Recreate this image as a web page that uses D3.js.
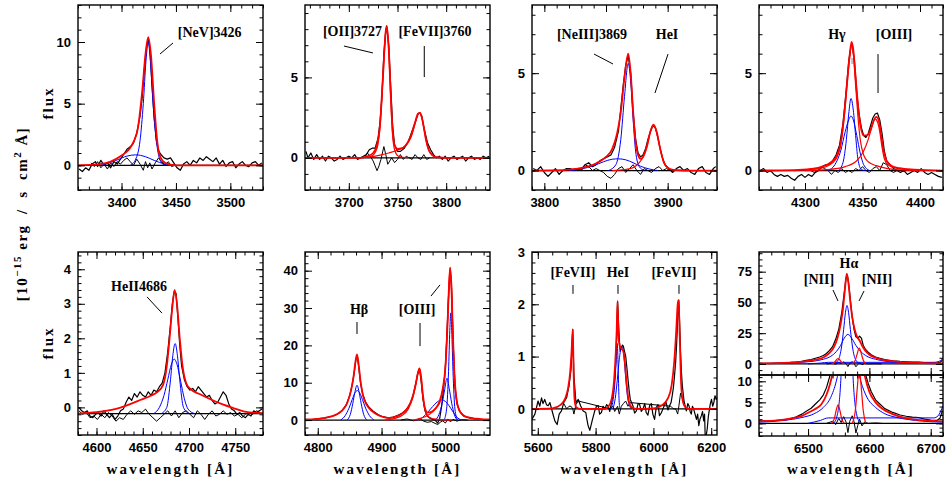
<!DOCTYPE html>
<html>
<head>
<meta charset="utf-8">
<script src="https://cdn.jsdelivr.net/npm/d3@7"></script>
<style>
  body { margin: 0; background: #fff; }
  .tick text { font-family: "Liberation Sans", Arial, sans-serif; font-weight: bold; font-size: 13px; fill: #000; }
  .lab { font-family: "Liberation Serif", serif; font-weight: bold; fill: #000; }
</style>
</head>
<body>
<svg id="chart" width="951" height="484"></svg>
<script>
// ---------- [NeV]3426 ----------
var neVObs = [[3361,-0.3],[3364,-0.5],[3367,-0.2],[3370,-0.4],[3373,0.1],[3376,0.3],[3378,-0.1],[3381,0.4],[3384,0.0],[3387,0.2],[3390,-0.2],[3393,0.3],[3396,0.1],[3399,0.5],[3402,0.9],[3405,1.3],[3408,1.5],[3411,1.8],[3414,2.6],[3417,4.0],[3419,5.5],[3421,7.8],[3423,9.6],[3424.5,10.2],[3426,9.5],[3428,6.5],[3430,3.8],[3432,2.0],[3434,1.2],[3436,0.9],[3439,0.6],[3442,0.5],[3445,0.6],[3448,0.2],[3451,-0.2],[3454,-0.4],[3457,0.1],[3460,0.3],[3463,0.0],[3466,0.4],[3469,0.2],[3472,0.6],[3475,0.4],[3478,0.7],[3481,0.5],[3484,0.3],[3487,0.6],[3490,0.1],[3493,0.4],[3496,-0.1],[3499,0.2],[3502,0.3],[3505,-0.2],[3508,0.1],[3511,0.3],[3514,0.0],[3517,-0.1],[3520,0.2],[3523,0.3],[3526,0.0],[3529,0.2]];
var neVResid = [[3372,0.2],[3375,-0.1],[3378,0.3],[3381,-0.2],[3384,0.1],[3387,-0.3],[3390,0.2],[3393,-0.1],[3396,0.3],[3399,0.1],[3402,0.4],[3405,0.6],[3408,0.3],[3411,0.0],[3414,0.5],[3417,0.1],[3420,-0.4],[3422,0.3],[3424,-0.2],[3426,0.2],[3428,-0.3],[3431,0.2],[3434,0.6],[3437,0.3],[3440,0.0],[3443,0.3],[3446,-0.1],[3449,0.0]];
var neVFit = [[3360,0],[3380,0.1],[3390,0.3],[3400,0.8],[3407,1.3],[3411,1.9],[3415,3.0],[3419,6.0],[3422,9.0],[3424.5,10.4],[3427,9.0],[3430,5.0],[3433,1.8],[3436,0.6],[3440,0.2],[3450,0],[3530,0]];
var neVNarrow = [[3408,0],[3413,0.5],[3417,2.0],[3420,5.0],[3422.5,8.5],[3424.5,10.0],[3426.5,8.5],[3429,5.0],[3432,2.0],[3436,0.3],[3440,0]];
var neVBroad = [[3380,0],[3385,0.1],[3395,0.4],[3405,0.75],[3413,0.85],[3422,0.7],[3430,0.4],[3440,0.1],[3450,0]];

// ---------- [OII]3727 / [FeVII]3760 ----------
var oIIObs = [[3656,0.4],[3658,0.0],[3661,0.3],[3664,-0.1],[3667,0.2],[3670,-0.1],[3673,0.1],[3676,-0.2],[3679,0.1],[3682,0.0],[3685,-0.2],[3688,-0.1],[3691,0.1],[3694,-0.1],[3697,0.0],[3700,0.1],[3703,0.0],[3706,0.2],[3709,-0.1],[3712,0.0],[3715,0.1],[3718,0.2],[3721,0.5],[3724,0.6],[3727,0.6],[3730,1.2],[3732,2.2],[3734,3.8],[3736,6.5],[3738,7.9],[3739,8.1],[3741,7.0],[3743,4.5],[3745,2.0],[3747,0.8],[3750,0.4],[3753,0.4],[3757,0.6],[3761,1.0],[3764,1.5],[3767,2.0],[3769,2.35],[3771,2.7],[3773,2.8],[3775,2.6],[3777,1.9],[3779,1.4],[3781,0.9],[3784,0.5],[3787,0.2],[3790,0.0],[3793,0.1],[3796,-0.1],[3799,0.1],[3802,-0.2],[3805,0.0],[3808,0.1],[3811,-0.1],[3814,0.0],[3817,0.1],[3820,-0.2],[3823,0.0],[3826,0.1],[3829,-0.1],[3832,0.0],[3835,-0.1],[3838,0.1],[3841,0.0],[3844,0.1]];
var oIIResid = [[3716,0.0],[3719,0.3],[3722,0.1],[3725,-0.2],[3727,-0.5],[3729,-0.8],[3731,-0.5],[3733,-0.1],[3736,0.7],[3738,0.2],[3740,-0.4],[3742,-0.2],[3744,0.0],[3747,-0.3],[3750,-0.1],[3753,0.2],[3756,-0.1],[3759,0.1],[3762,0.0],[3765,-0.1],[3768,0.2],[3771,0.0],[3774,-0.1],[3777,0.2],[3780,-0.1],[3783,0.0]];
var oIIFit = [[3655,0],[3711,0],[3719,0.1],[3725,0.3],[3729,0.8],[3732,2.0],[3735,5.0],[3738,7.9],[3739,8.2],[3741,6.8],[3743,4.0],[3745,1.7],[3747,0.8],[3750,0.55],[3755,0.6],[3760,0.9],[3764,1.4],[3768,2.2],[3771,2.75],[3773,2.8],[3775,2.5],[3777,1.9],[3779,1.2],[3782,0.5],[3786,0.15],[3791,0.03],[3801,0],[3845,0]];
var oIIComp = [[3711,0],[3723,0.1],[3729,0.6],[3732,1.9],[3735,4.9],[3738,7.9],[3739,8.2],[3741,6.7],[3743,3.8],[3745,1.4],[3747,0.5],[3751,0.1],[3761,0]];
var feVIIaComp = [[3711,0],[3721,0.05],[3731,0.15],[3741,0.3],[3751,0.5],[3759,0.8],[3764,1.3],[3768,2.1],[3771,2.7],[3773,2.8],[3775,2.5],[3777,1.9],[3779,1.2],[3782,0.5],[3786,0.15],[3791,0.03],[3801,0]];

// ---------- [NeIII]3869 / HeI ----------
var neIIIObs = [[3791,0.1],[3794,0.0],[3797,0.2],[3800,-0.1],[3803,-0.3],[3806,-0.1],[3809,0.1],[3812,-0.2],[3815,0.0],[3818,0.1],[3821,0.1],[3824,0.0],[3827,0.1],[3830,0.0],[3833,0.3],[3836,0.4],[3839,0.2],[3842,0.3],[3845,0.5],[3848,0.6],[3851,0.7],[3854,0.8],[3857,1.2],[3860,2.0],[3862,3.2],[3864,4.4],[3866,5.4],[3868,5.9],[3870,5.0],[3872,3.0],[3874,1.6],[3876,0.9],[3878,0.7],[3880,0.8],[3882,1.1],[3884,1.6],[3886,2.0],[3888,2.3],[3890,2.2],[3892,1.7],[3894,1.1],[3896,0.6],[3898,0.3],[3901,0.1],[3904,-0.1],[3907,0.1],[3910,0.2],[3913,0.0],[3916,0.1],[3919,-0.1],[3922,-0.2],[3925,0.1],[3928,0.2],[3931,-0.1],[3934,-0.2],[3937,0.1],[3939,0.2]];
var neIIIResid = [[3825,0.0],[3830,0.1],[3833,0.3],[3836,0.2],[3839,0.0],[3842,0.1],[3845,0.0],[3848,-0.1],[3851,-0.3],[3854,-0.4],[3857,-0.2],[3860,0.1],[3863,0.2],[3866,-0.1],[3869,0.1],[3872,0.3],[3875,0.0],[3878,-0.2],[3881,0.1],[3884,0.0],[3887,-0.1],[3890,0.1],[3893,0.2],[3896,0.0],[3899,0.1],[3902,0.0]];
var neIIIFit = [[3790,0],[3815,0.02],[3825,0.08],[3835,0.2],[3843,0.4],[3850,0.7],[3855,1.1],[3859,1.9],[3862,3.0],[3865,4.8],[3868,6.0],[3870,5.0],[3872,3.0],[3874,1.5],[3876,0.8],[3878,0.6],[3880,0.7],[3883,1.2],[3886,2.0],[3888.5,2.35],[3891,2.0],[3894,1.1],[3897,0.4],[3900,0.15],[3905,0.03],[3915,0],[3940,0]];
var heIaComp = [[3855,0],[3865,0.05],[3872,0.15],[3877,0.4],[3880,0.7],[3883,1.2],[3886,2.0],[3888.5,2.35],[3891,2.0],[3894,1.1],[3897,0.4],[3900,0.15],[3905,0.03],[3915,0]];
var neIIINarrow = [[3852,0],[3858,0.3],[3862,1.6],[3865,3.8],[3868,5.5],[3870,4.6],[3872,2.6],[3874,1.0],[3877,0.2],[3881,0]];
var neIIIBroad = [[3820,0],[3830,0.08],[3840,0.25],[3848,0.45],[3855,0.58],[3860,0.6],[3866,0.55],[3872,0.4],[3878,0.22],[3885,0.08],[3892,0]];

// ---------- Hgamma / [OIII]4363 ----------
var hgObs = [[4261,0.0],[4264,0.1],[4267,-0.1],[4270,0.0],[4273,-0.2],[4276,-0.3],[4279,-0.2],[4282,-0.3],[4285,-0.25],[4288,-0.4],[4291,-0.5],[4294,-0.3],[4297,-0.2],[4300,-0.35],[4303,-0.2],[4306,-0.3],[4309,-0.1],[4312,0.0],[4315,0.2],[4318,0.3],[4321,0.3],[4324,0.5],[4327,0.8],[4330,1.3],[4333,2.4],[4336,4.2],[4338,5.6],[4340,6.4],[4341,6.5],[4343,5.6],[4345,4.0],[4347,2.9],[4349,2.2],[4351,1.8],[4353,1.7],[4355,1.9],[4357,2.3],[4359,2.7],[4361,2.9],[4363,2.95],[4365,2.6],[4367,1.9],[4369,1.0],[4371,0.5],[4374,0.3],[4377,0.1],[4380,0.0],[4383,-0.1],[4386,0.0],[4389,-0.2],[4392,-0.1],[4395,0.0],[4398,-0.1],[4401,0.1],[4404,-0.1],[4407,-0.2],[4410,-0.1],[4413,-0.2],[4416,-0.3],[4419,-0.35]];
var hgResid = [[4305,0.0],[4308,-0.1],[4311,0.0],[4314,0.2],[4317,0.1],[4320,0.0],[4323,-0.2],[4326,0.0],[4329,-0.1],[4332,0.1],[4335,-0.1],[4338,0.0],[4341,-0.1],[4344,0.1],[4347,0.0],[4350,0.2],[4353,0.0],[4356,-0.1],[4359,0.1],[4362,0.2],[4365,0.0],[4368,0.4],[4371,0.3],[4374,0.0],[4377,-0.1],[4380,0.0]];
var hgFit = [[4260,0],[4290,0.02],[4305,0.08],[4315,0.2],[4322,0.4],[4327,0.7],[4331,1.4],[4334,2.8],[4337,4.8],[4339,6.0],[4340.5,6.6],[4342,6.2],[4344,4.8],[4346,3.4],[4348,2.4],[4351,1.8],[4354,1.8],[4357,2.1],[4360,2.6],[4362,2.75],[4364,2.6],[4366,1.9],[4368,1.1],[4371,0.5],[4375,0.25],[4382,0.12],[4395,0.05],[4420,0]];
var oIIIaComp = [[4300,0],[4320,0.05],[4335,0.2],[4345,0.5],[4351,1.0],[4355,1.6],[4358,2.2],[4361,2.65],[4363,2.5],[4365,2.0],[4367,1.2],[4369,0.6],[4372,0.3],[4378,0.15],[4390,0.05],[4405,0]];
var hgComp = [[4290,0],[4310,0.08],[4320,0.25],[4327,0.6],[4331,1.3],[4334,2.7],[4337,4.7],[4339,5.9],[4340.5,6.5],[4342,6.0],[4344,4.4],[4346,2.8],[4348,1.6],[4351,0.8],[4355,0.45],[4362,0.25],[4372,0.1],[4385,0.03],[4400,0]];
var hgNarrow = [[4329,0],[4333,0.4],[4336,1.6],[4338,2.9],[4340,3.7],[4342,3.1],[4344,1.8],[4346,0.6],[4349,0.05],[4352,0]];
var hgBroad = [[4320,0],[4326,0.3],[4331,1.0],[4335,2.0],[4338,2.6],[4340,2.8],[4342,2.6],[4345,1.8],[4348,0.9],[4351,0.3],[4356,0]];

// ---------- HeII4686 ----------
var heIIObs = [[4581,0.0],[4584,-0.1],[4587,-0.15],[4590,-0.1],[4593,-0.25],[4596,-0.3],[4599,-0.2],[4602,-0.15],[4605,-0.25],[4608,-0.1],[4611,-0.2],[4614,-0.3],[4617,-0.2],[4620,-0.35],[4623,-0.25],[4626,-0.1],[4629,-0.05],[4632,0.15],[4635,0.3],[4638,0.2],[4641,0.4],[4644,0.3],[4647,0.45],[4650,0.35],[4653,0.3],[4656,0.45],[4659,0.35],[4662,0.5],[4665,0.45],[4668,0.6],[4671,0.7],[4674,1.0],[4677,1.6],[4680,2.4],[4682,3.0],[4684,3.35],[4686,3.3],[4688,2.6],[4690,1.8],[4692,1.2],[4695,0.8],[4698,0.6],[4701,0.5],[4704,0.55],[4707,0.45],[4710,0.6],[4713,0.5],[4716,0.4],[4719,0.3],[4722,0.35],[4725,0.2],[4728,0.1],[4731,0.15],[4734,0.3],[4737,0.45],[4740,0.35],[4743,0.1],[4746,-0.05],[4749,-0.1],[4752,-0.2],[4755,-0.15],[4758,-0.25],[4761,-0.3],[4764,-0.2],[4767,-0.25],[4770,-0.1],[4773,-0.15],[4776,-0.1],[4779,-0.05]];
var heIIResid = [[4581,-0.1],[4585,-0.2],[4589,-0.15],[4593,-0.3],[4597,-0.25],[4601,-0.35],[4605,-0.2],[4609,-0.3],[4613,-0.15],[4617,-0.25],[4621,-0.4],[4625,-0.3],[4629,-0.35],[4633,-0.2],[4637,-0.1],[4641,-0.2],[4645,-0.1],[4649,-0.15],[4653,-0.05],[4657,-0.2],[4661,-0.3],[4665,-0.4],[4669,-0.3],[4673,-0.2],[4677,-0.1],[4681,-0.25],[4685,-0.1],[4689,-0.3],[4693,-0.15],[4697,-0.1],[4701,-0.2],[4705,-0.3],[4709,-0.1],[4713,-0.2],[4717,-0.35],[4721,-0.2],[4725,-0.1],[4729,-0.25],[4733,-0.2],[4737,-0.1],[4741,-0.2],[4745,-0.15],[4749,-0.25],[4753,-0.2],[4757,-0.3],[4761,-0.2],[4765,-0.15],[4769,-0.2],[4773,-0.1],[4777,-0.15]];
var heIIFit = [[4580,-0.18],[4600,-0.14],[4620,-0.05],[4635,0.08],[4648,0.22],[4658,0.33],[4666,0.45],[4672,0.65],[4676,1.2],[4679,2.0],[4682,2.9],[4684.5,3.4],[4687,3.0],[4690,2.0],[4693,1.2],[4697,0.7],[4702,0.52],[4712,0.38],[4722,0.25],[4735,0.1],[4748,-0.02],[4760,-0.12],[4780,-0.17]];
var heIINarrow = [[4670,-0.18],[4676,0.0],[4680,0.8],[4682.5,1.5],[4685,1.85],[4687.5,1.5],[4690,0.8],[4694,0.0],[4700,-0.18]];
var heIIMedium = [[4662,-0.18],[4668,0.0],[4673,0.35],[4677,0.8],[4681,1.25],[4684,1.4],[4687,1.25],[4691,0.75],[4695,0.25],[4699,-0.05],[4706,-0.18]];

// ---------- Hbeta / [OIII]4959,5007 ----------
var hbObs = [[4781,0.2],[4790,0.1],[4800,0.3],[4810,0.5],[4820,0.9],[4830,1.5],[4838,2.5],[4845,4.2],[4850,6.5],[4854,9.5],[4857,12.5],[4860,16.5],[4862,17.2],[4864,14.5],[4867,10],[4870,7.2],[4875,4.8],[4880,3.5],[4888,2.2],[4895,1.4],[4902,0.9],[4910,0.6],[4918,0.8],[4925,1.2],[4932,1.8],[4940,3],[4946,4.8],[4950,7],[4954,10],[4957,12.8],[4959.5,13.6],[4962,10.5],[4965,5.5],[4968,2.5],[4972,1.0],[4976,0.5],[4980,0.2],[4984,0.0],[4988,-0.8],[4991,0.3],[4994,3.5],[4997,8],[5000,14],[5003,25],[5005.5,35],[5007.5,40],[5009.5,36],[5012,22],[5015,9],[5018,4.5],[5022,2.5],[5028,1.2],[5035,0.7],[5045,0.4],[5055,0.2],[5069,0.1]];
var hbResid = [[4930,0],[4940,0.3],[4950,-0.2],[4960,0.4],[4966,-0.3],[4972,-0.6],[4978,-0.4],[4984,-0.9],[4988,-1.2],[4992,-0.6],[4996,-0.2],[5000,-0.8],[5004,0.3],[5008,-0.5],[5012,0.2],[5018,-0.3],[5025,0.1],[5035,0]];
var hbFit = [[4780,0.1],[4800,0.3],[4815,0.7],[4828,1.4],[4838,2.5],[4846,4.5],[4852,7.8],[4856,11.5],[4859,15.5],[4861.5,17.6],[4864,15],[4867,10.5],[4871,6.5],[4877,4],[4885,2.4],[4895,1.3],[4905,0.7],[4912,0.55],[4920,0.8],[4930,1.5],[4938,2.6],[4945,4.5],[4950,7],[4954,10],[4957,12.6],[4959.5,13.8],[4962,11.5],[4965,6.5],[4968,3.2],[4972,2.0],[4978,2.2],[4985,3.2],[4991,5],[4996,8.5],[5000,14],[5003,24],[5005.5,35],[5007.5,40.8],[5009.5,36],[5012,22],[5015,10],[5018,5],[5022,2.6],[5028,1.3],[5036,0.7],[5048,0.35],[5060,0.2],[5070,0.15]];
var oIIIbComp = [[4905,0],[4920,0.4],[4932,1.2],[4942,3],[4949,6],[4954,9.8],[4957,12.5],[4959.5,13.8],[4962,11.3],[4965,6],[4968,2.8],[4972,1.2],[4978,0.5],[4988,0.2],[5000,0.05],[5010,0]];
var oIIIcComp = [[4950,0],[4962,0.5],[4972,1.2],[4980,2.2],[4987,3.5],[4992,5],[4996,8.2],[5000,13.8],[5003,24],[5005.5,35],[5007.5,40.8],[5009.5,36],[5012,22],[5015,10],[5018,5],[5022,2.6],[5028,1.3],[5036,0.7],[5048,0.3],[5060,0.1],[5070,0.05]];
var hbNarrow = [[4846,0],[4851,1.5],[4855,4.5],[4858,7.3],[4861.5,9.3],[4865,7.3],[4868,4.5],[4872,1.5],[4877,0]];
var hbBroad = [[4836,0],[4843,1.2],[4849,3.2],[4854,5.5],[4858,7.2],[4862,7.9],[4866,7.2],[4870,5.5],[4875,3.2],[4881,1.2],[4888,0]];
var oIIIBroad = [[4955,0],[4965,0.8],[4973,2.2],[4980,3.6],[4987,4.8],[4994,5.4],[5000,5.0],[5006,3.8],[5012,2.2],[5018,0.8],[5025,0]];
var oIIIMedium = [[4984,0],[4990,1.5],[4995,4.5],[4999,8.2],[5002.5,11.2],[5006,8.5],[5010,4.5],[5014,1.5],[5019,0]];
var oIIINarrow = [[4998,0],[5002,3],[5005,13],[5007,24],[5008.5,28.7],[5010,24],[5012,13],[5015,3],[5019,0]];

// ---------- [FeVII]5721 / HeI5876 / [FeVII]6087 ----------
var feObs = [[5580,-0.2],[5590,-0.1],[5601,0.15],[5607,0.05],[5613,0.21],[5618,0.1],[5624,0.18],[5630,0.08],[5636,0.06],[5642,0.12],[5651,-0.07],[5659,-0.23],[5667,-0.3],[5674,-0.1],[5682,-0.04],[5690,0.12],[5700,0.22],[5708,0.44],[5715,0.76],[5721,1.52],[5725,0.63],[5732,0.12],[5740,0.18],[5748,0.06],[5757,-0.04],[5766,-0.07],[5770,-0.2],[5774,-0.32],[5780,-0.41],[5788,-0.23],[5797,-0.04],[5803,0.05],[5809,0.06],[5814,-0.1],[5820,-0.07],[5826,0.05],[5832,0],[5838,0.08],[5843,0.06],[5849,-0.05],[5855,0.12],[5860,0.25],[5864,0.44],[5868,0.7],[5871,1.01],[5876,2.06],[5882,1.33],[5885,1.1],[5889,1.17],[5893,1.22],[5896,1.2],[5900,1.1],[5904,1.01],[5908,0.8],[5912,0.57],[5916,0.35],[5920,0.18],[5929,0.06],[5935,-0.08],[5941,-0.04],[5947,0.1],[5952,0.09],[5958,-0.05],[5964,0],[5970,0.1],[5975,-0.07],[5981,-0.12],[5987,0.06],[5993,0.1],[5998,-0.1],[6004,-0.2],[6010,0.03],[6016,0.08],[6021,-0.13],[6027,-0.08],[6033,0],[6039,0.08],[6044,0.12],[6050,-0.02],[6056,0.06],[6061,0.12],[6065,0.25],[6069,0.4],[6073,0.63],[6077,0.9],[6080,1.2],[6084,1.7],[6088,2.08],[6091,1.6],[6094,1.07],[6097,0.7],[6100,0.44],[6106,0.15],[6110,0.05],[6114,-0.04],[6119,0.1],[6123,0.06],[6127,-0.05],[6131,-0.1],[6135,0.05],[6139,0],[6144,-0.1],[6149,-0.2],[6153,-0.1],[6157,-0.32],[6161,-0.2],[6166,-0.13],[6170,-0.05],[6174,-0.23],[6177,-0.1],[6180,-0.7],[6183,-0.5],[6186,-0.39],[6190,-0.15],[6193,-0.04],[6197,0.1],[6201,0.18],[6205,0.05],[6209,0.12],[6213,0.25],[6216,0.22],[6219,0.18]];
var feResid = [[5690,0.1],[5700,0.0],[5708,0.05],[5715,0.05],[5721,0.0],[5725,-0.1],[5732,0.08],[5740,0.15],[5850,0.0],[5860,0.05],[5866,-0.05],[5871,0.0],[5876,0.05],[5882,-0.1],[5889,0.05],[5896,0.1],[5904,0.15],[5912,0.05],[5920,0.12],[6060,0.05],[6069,0.0],[6077,0.0],[6084,-0.1],[6088,0.05],[6094,0.3],[6100,0.2],[6106,0.1]];
var feFit = [[5580,0],[5650,0.01],[5680,0.08],[5695,0.2],[5705,0.4],[5712,0.7],[5717,1.1],[5721,1.52],[5724,0.7],[5727,0.2],[5732,0.04],[5745,0],[5830,0],[5845,0.05],[5856,0.2],[5864,0.55],[5870,1.1],[5873,1.5],[5876,2.05],[5879,1.4],[5884,1.2],[5890,1.15],[5896,1.1],[5902,0.85],[5908,0.45],[5915,0.15],[5925,0.03],[5940,0],[6000,0.01],[6030,0.07],[6050,0.2],[6063,0.45],[6072,0.9],[6079,1.5],[6084,2.0],[6087,2.08],[6091,1.4],[6095,0.6],[6100,0.2],[6108,0.05],[6120,0],[6220,0]];
var heIbNarrow = [[5852,0],[5860,0.15],[5866,0.45],[5871,0.9],[5875,1.25],[5878,0.8],[5881,0.2],[5884,0]];
var heIbBroad = [[5860,0],[5868,0.2],[5875,0.55],[5882,0.95],[5888,1.15],[5893,1.18],[5898,1.0],[5904,0.6],[5910,0.25],[5918,0.05],[5925,0]];

// ---------- Halpha / [NII] ----------
var haObs = [[6421,0.6],[6435,0.5],[6450,0.7],[6465,0.9],[6480,1.5],[6490,2.2],[6497,2.9],[6505,3.6],[6512,4.6],[6519,5.6],[6525,6.8],[6530,8.5],[6535,11],[6540,14],[6545,20],[6550,28],[6555,42],[6559,58],[6562,70],[6564,72.5],[6566,66],[6569,52],[6572,38],[6575,28],[6578,22],[6581,21],[6584,22.5],[6587,21],[6590,15],[6594,11.5],[6598,9.5],[6603,7.5],[6610,5.6],[6617,4.6],[6625,3.5],[6638,2.6],[6650,2.0],[6660,1.7],[6670,1.5],[6680,1.4],[6690,1.0],[6700,0.8],[6710,0.7],[6715,1.2],[6719,3.0]];
var haResid = [[6530,0],[6540,0.5],[6545,-0.3],[6550,1.2],[6554,0.2],[6558,1.6],[6562,0.3],[6565,-2.2],[6568,0.5],[6572,1.8],[6575,0.4],[6578,-2.3],[6581,-0.5],[6584,1.0],[6588,-0.6],[6592,0.3],[6598,0],[6610,0.1],[6620,0]];
var haFit = [[6420,0.5],[6450,0.7],[6470,1.1],[6490,1.8],[6505,2.9],[6515,3.7],[6522,4.6],[6530,6.8],[6536,9.5],[6542,13.5],[6548,21],[6553,32],[6557,45],[6560,60],[6563,73.5],[6566,65],[6569,50],[6572,38],[6576,28],[6580,22],[6584,19],[6588,15],[6593,11],[6600,7.5],[6610,5],[6620,3.6],[6638,2.2],[6660,1.2],[6690,0.7],[6720,0.5]];
var nIIaComp = [[6538,0],[6543,1.2],[6546,3.2],[6549,4.4],[6552,3.0],[6555,1.0],[6559,0]];
var nIIbComp = [[6572,0],[6577,3],[6580,8],[6583.5,12.8],[6587,8],[6590,3],[6594,0]];
var haNarrow = [[6542,0],[6549,3],[6554,12],[6558,28],[6561,42],[6563.5,47.5],[6566,42],[6569,28],[6573,12],[6578,3],[6585,0]];
var haBroad = [[6420,0.3],[6460,0.7],[6490,1.4],[6510,2.3],[6525,3.8],[6537,6.2],[6546,10],[6553,15],[6559,21],[6565,24],[6571,21],[6578,15],[6586,10],[6596,6.2],[6610,3.8],[6625,2.3],[6645,1.4],[6675,0.7],[6720,0.3]];
var haFlat = [[6500,0],[6520,0.7],[6533,1.3],[6705,1.3],[6712,1.8],[6716,2.8],[6720,4.2]];

// ---------- styles ----------
var BLACK = "#000", RED = "#ff0000", BLUE = "#0000ff";
function obs(d) { return {d: d, c: BLACK, w: 1.2, smooth: false}; }
function res(d) { return {d: d, c: BLACK, w: 1.0, smooth: false}; }
function blue(d) { return {d: d, c: BLUE, w: 1.0, smooth: true}; }
function red(d, w) { return {d: d, c: RED, w: w || 1.2, smooth: true}; }

var haSeries = [obs(haObs), res(haResid), blue(haFlat), blue(haBroad), blue(haNarrow), red(nIIaComp), red(nIIbComp), red(haFit, 1.8)];

var panels = [
  {box: [78, 5, 185, 185], xd: [3360, 3530], yd: [-2, 13], xt: [50, 10], yt: [5, 1], base: 0, xlab: true,
   series: [obs(neVObs), res(neVResid), blue(neVBroad), blue(neVNarrow), red(neVFit, 1.8)],
   notes: [["[NeV]3426", 3481, 10.4]], leaders: [[3447.3, 9.92, 3435.4, 9.03]]},
  {box: [305, 5, 185, 185], xd: [3655, 3845], yd: [-2, 9.5], xt: [50, 10], yt: [5, 1], base: 0, xlab: true,
   series: [obs(oIIObs), res(oIIResid), red(feVIIaComp), red(oIIComp), red(oIIFit, 1.8)],
   notes: [["[OII]3727", 3703.8, 7.57], ["[FeVII]3760", 3788.5, 7.57]],
   leaders: [[3695.0, 6.95, 3724.8, 6.52], [3777.5, 6.95, 3777.5, 5.02]]},
  {box: [532, 5, 185, 185], xd: [3790, 3940], yd: [-1, 8.5], xt: [50, 10], yt: [5, 1], base: 0, xlab: true,
   series: [obs(neIIIObs), res(neIIIResid), blue(neIIIBroad), blue(neIIINarrow), red(heIaComp), red(neIIIFit, 1.8)],
   notes: [["[NeIII]3869", 3838.6, 6.75], ["HeI", 3899.5, 6.75]],
   leaders: [[3840.3, 5.98, 3855.7, 5.47], [3900.3, 5.98, 3889.7, 3.98]]},
  {box: [759, 5, 184, 185], xd: [4260, 4420], yd: [-1, 8.5], xt: [50, 10], yt: [5, 1], base: 0, xlab: true,
   series: [obs(hgObs), res(hgResid), blue(hgBroad), blue(hgNarrow), red(oIIIaComp), red(hgComp), red(hgFit, 1.8)],
   notes: [["H\u03b3", 4327.8, 6.75], ["[OIII]", 4377.4, 6.75]],
   leaders: [[4363.5, 5.98, 4363.5, 3.98], [4340.9, 5.78, 4340.9, 5.47, "#888"]]},
  {box: [78, 252, 185, 183], xd: [4580, 4780], yd: [-0.8, 4.5], xt: [50, 10], yt: [1, 0.2], base: -0.18, xlab: true,
   series: [obs(heIIObs), res(heIIResid), blue(heIIMedium), blue(heIINarrow), red(heIIFit, 1.8)],
   notes: [["HeII4686", 4646, 3.37]], leaders: [[4654.6, 3.2, 4670.8, 2.73]]},
  {box: [305, 252, 185, 183], xd: [4780, 5070], yd: [-4, 45], xt: [100, 20], yt: [10, 2], base: 0, xlab: true,
   series: [obs(hbObs), res(hbResid), blue(hbBroad), blue(hbNarrow), blue(oIIIBroad), blue(oIIIMedium), blue(oIIINarrow), red(oIIIbComp), red(oIIIcComp), red(hbFit, 1.8)],
   notes: [["H\u03b2", 4864.7, 28.4], ["[OIII]", 4955.6, 28.4]],
   leaders: [[4861.5, 26.26, 4861.5, 23.05], [4960.3, 26.0, 4960.3, 19.8], [4977.5, 33.2, 4991.6, 36.2]]},
  {box: [532, 252, 185, 183], xd: [5580, 6220], yd: [-0.5, 3], xt: [200, 50], yt: [1, 0.2], base: 0, xlab: true,
   series: [obs(feObs), res(feResid), blue(heIbBroad), blue(heIbNarrow), red(feFit, 1.8)],
   notes: [["[FeVII]", 5721.8, 2.52], ["HeI", 5877.5, 2.52], ["[FeVII]", 6071.2, 2.52]],
   leaders: [[5721.8, 2.37, 5721.8, 2.2], [5877.5, 2.37, 5877.5, 2.2], [6088.5, 2.37, 6088.5, 2.2]]},
  {box: [759, 252, 184, 123], xd: [6420, 6720], yd: [-9, 91], xt: [100, 20], yt: [25, 5], base: 0, xlab: false,
   series: haSeries,
   notes: [["H\u03b1", 6566.7, 78], ["[NII]", 6517.8, 65], ["[NII]", 6612.4, 65]],
   leaders: [[6540.7, 60.1, 6548.8, 51.2], [6591.2, 59.3, 6583.1, 51.2]]},
  {box: [759, 375, 184, 61], xd: [6420, 6720], yd: [-3, 11.5], xt: [100, 20], yt: [5, 1], base: 0, xlab: true,
   series: haSeries, notes: [], leaders: []}
];

var svg = d3.select("#chart");

function tickList(lo, hi, step) {
  var out = [];
  for (var v = Math.ceil(lo / step - 1e-9) * step; v <= hi + 1e-9; v += step) out.push(+v.toFixed(6));
  return out;
}

panels.forEach(function(p, i) {
  var bx = p.box[0], by = p.box[1], bw = p.box[2], bh = p.box[3];
  var x = d3.scaleLinear().domain(p.xd).range([bx, bx + bw]);
  var y = d3.scaleLinear().domain(p.yd).range([by + bh, by]);

  svg.append("clipPath").attr("id", "clip" + i)
    .append("rect").attr("x", bx).attr("y", by).attr("width", bw).attr("height", bh);

  var g = svg.append("g");
  var plot = g.append("g").attr("clip-path", "url(#clip" + i + ")");

  // zero / continuum level
  plot.append("line")
    .attr("x1", bx).attr("x2", bx + bw)
    .attr("y1", y(p.base)).attr("y2", y(p.base))
    .attr("stroke", "#000").attr("stroke-width", 1.2);

  p.series.forEach(function(s) {
    var line = d3.line()
      .x(function(d) { return x(d[0]); })
      .y(function(d) { return y(d[1]); })
      .curve(s.smooth ? d3.curveMonotoneX : d3.curveLinear);
    plot.append("path").datum(s.d)
      .attr("d", line)
      .attr("fill", "none")
      .attr("stroke", s.c)
      .attr("stroke-width", s.w)
      .attr("stroke-linejoin", "round");
  });

  // ticks on all four sides, pointing inward
  var xMaj = tickList(p.xd[0], p.xd[1], p.xt[0]), xMin = tickList(p.xd[0], p.xd[1], p.xt[1]);
  var yMaj = tickList(p.yd[0], p.yd[1], p.yt[0]), yMin = tickList(p.yd[0], p.yd[1], p.yt[1]);
  function ax(axis, vals, len, lab, tx, ty) {
    var a = axis.tickValues(vals).tickSize(-len).tickPadding(lab ? 8 : 0);
    if (!lab) a.tickFormat("");
    else a.tickFormat(d3.format("d"));
    var sel = g.append("g").attr("transform", "translate(" + tx + "," + ty + ")").call(a);
    sel.select(".domain").remove();
    sel.selectAll(".tick line").attr("stroke", "#000").attr("stroke-width", 1);
    return sel;
  }
  ax(d3.axisBottom(x), xMin, 3.5, false, 0, by + bh);
  ax(d3.axisBottom(x), xMaj, 7, p.xlab, 0, by + bh);
  ax(d3.axisTop(x), xMin, 3.5, false, 0, by);
  ax(d3.axisTop(x), xMaj, 7, false, 0, by);
  ax(d3.axisLeft(y), yMin, 3.5, false, bx, 0);
  ax(d3.axisLeft(y), yMaj, 7, true, bx, 0).selectAll("text").attr("dx", 1);
  ax(d3.axisRight(y), yMin, 3.5, false, bx + bw, 0);
  ax(d3.axisRight(y), yMaj, 7, false, bx + bw, 0);

  g.append("rect").attr("x", bx).attr("y", by).attr("width", bw).attr("height", bh)
    .attr("fill", "none").attr("stroke", "#000").attr("stroke-width", 1.4);

  p.notes.forEach(function(n) {
    g.append("text").attr("class", "lab")
      .attr("x", x(n[1])).attr("y", y(n[2]))
      .attr("text-anchor", "middle")
      .style("font-size", "14px")
      .text(n[0]);
  });
  p.leaders.forEach(function(l) {
    g.append("line")
      .attr("x1", x(l[0])).attr("y1", y(l[1]))
      .attr("x2", x(l[2])).attr("y2", y(l[3]))
      .attr("stroke", l[4] || "#000").attr("stroke-width", 1);
  });

  if (p.xlab && by > 200) {
    g.append("text").attr("class", "lab")
      .attr("x", bx + bw / 2).attr("y", 474)
      .attr("text-anchor", "middle")
      .style("font-size", "15px").style("letter-spacing", "2.2px")
      .text("wavelength [\u00c5]");
  }
});

// y-axis titles
[103, 343].forEach(function(cy) {
  svg.append("text").attr("class", "lab")
    .attr("transform", "translate(53," + cy + ") rotate(-90)")
    .attr("text-anchor", "middle")
    .style("font-size", "15px").style("letter-spacing", "2px")
    .text("flux");
});

var yl = svg.append("text").attr("class", "lab")
  .attr("transform", "translate(27,214) rotate(-90)")
  .attr("text-anchor", "middle")
  .style("font-size", "15px").style("letter-spacing", "1.5px").style("white-space", "pre");
yl.append("tspan").text("[10");
yl.append("tspan").attr("dy", -6).style("font-size", "11px").text("\u221215");
yl.append("tspan").attr("dy", 6).text(" erg  /  s  cm");
yl.append("tspan").attr("dy", -6).style("font-size", "11px").text("2");
yl.append("tspan").attr("dy", 6).text(" \u00c5]");
</script>
</body>
</html>
